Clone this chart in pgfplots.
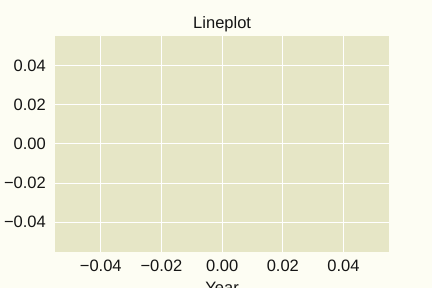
\documentclass[border=0pt]{standalone}
\usepackage{fontspec}
\setmainfont{Liberation Sans}
\usepackage{pgfplots}
\pgfplotsset{compat=1.18}
\definecolor{axbg}{HTML}{E6E6C6}
\definecolor{figbg}{HTML}{FDFDF3}
\definecolor{txt}{HTML}{151515}
\begin{document}
\begin{tikzpicture}
\fill[figbg] (-55.3pt,-36.3pt) rectangle (376.7pt,251.7pt);
\begin{axis}[
  at={(0pt,0pt)}, anchor=south west,
  scale only axis,
  width=333.7pt, height=215.7pt,
  xmin=-0.055, xmax=0.055, ymin=-0.055, ymax=0.055,
  scaled ticks=false,
  xtick={-0.04,-0.02,0,0.02,0.04},
  ytick={-0.04,-0.02,0,0.02,0.04},
  xticklabels={\textminus0.04,\textminus0.02,0.00,0.02,0.04},
  yticklabels={\textminus0.04,\textminus0.02,0.00,0.02,0.04},
  axis background/.style={fill=axbg},
  axis line style={draw=none},
  major tick length=0pt,
  grid=major,
  major grid style={white, line width=0.9pt},
  tick label style={font=\fontsize{16.5}{19}\selectfont, text=txt},
  xticklabel style={yshift=-5pt},
  yticklabel style={xshift=-6pt},
  title={Lineplot},
  title style={font=\fontsize{16.5}{19}\selectfont, text=txt, yshift=-5pt},
  xlabel={Year},
  xlabel style={font=\fontsize{16.5}{19}\selectfont, text=txt, yshift=-3pt},
]
\addplot[draw=none] coordinates {(0,0)};
\end{axis}
\pgfresetboundingbox
\path[use as bounding box] (-55.3pt,-36.3pt) rectangle (376.7pt,251.7pt);
\end{tikzpicture}
\end{document}
